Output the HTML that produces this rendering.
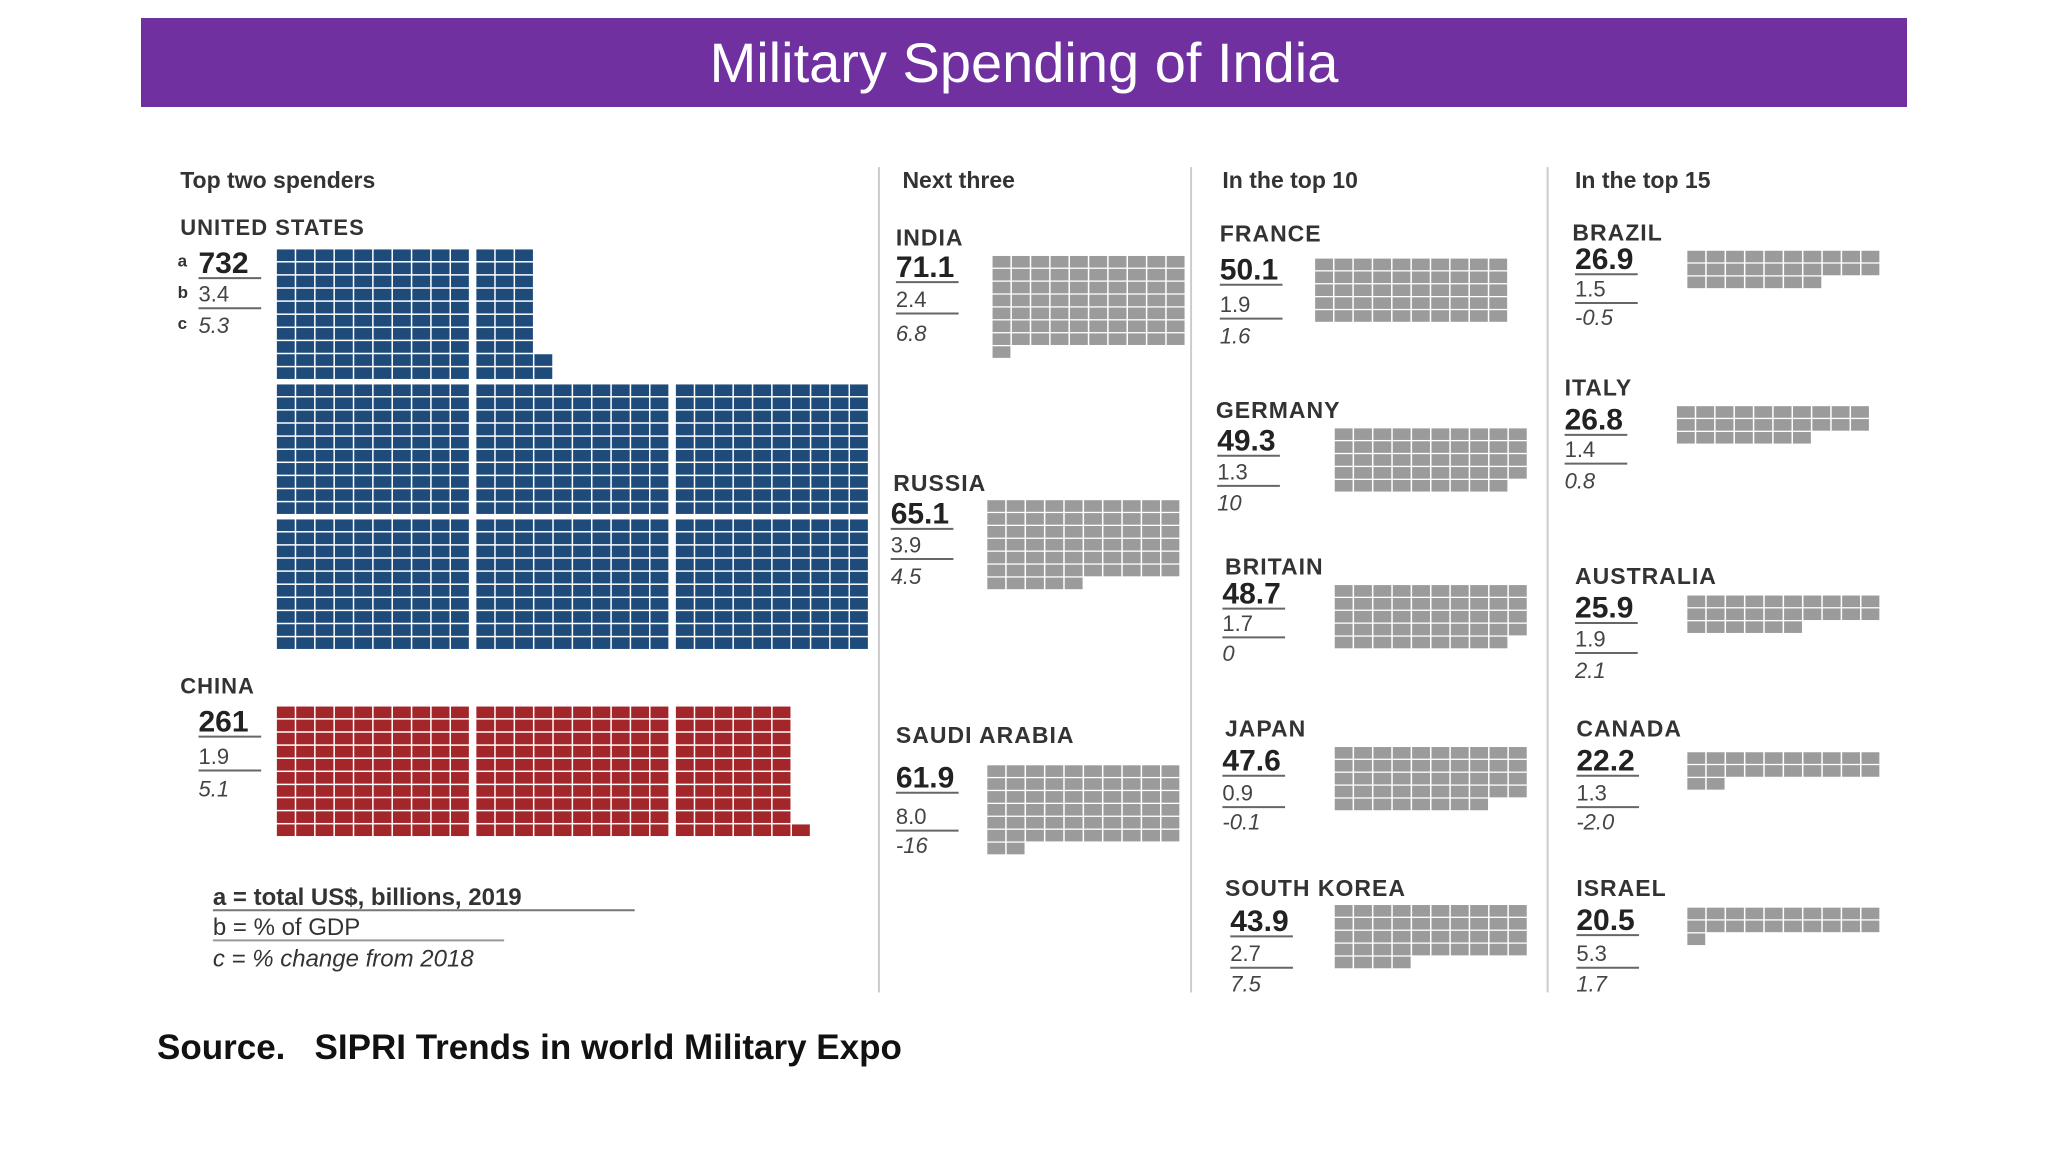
<!DOCTYPE html>
<html><head><meta charset="utf-8">
<style>
html,body{margin:0;padding:0;background:#fff;}
body{width:2048px;height:1152px;overflow:hidden;position:relative;font-family:"Liberation Sans",sans-serif;}
#title{position:absolute;left:141px;top:18px;width:1766px;height:89px;background:#7030a0;color:#fff;font-size:56px;text-align:center;line-height:89px;}
#source{position:absolute;left:157px;top:1028px;font-size:35px;font-weight:bold;color:#111;}
svg{position:absolute;left:0;top:0;}
</style></head>
<body>
<div id="title">Military Spending of India</div>
<svg id="chart" width="2048" height="1152"></svg>
<div id="source">Source.&nbsp;&nbsp;&nbsp;SIPRI Trends in world Military Expo</div>
<script>
// data
const countries = ["UNITED STATES","CHINA","INDIA","RUSSIA","SAUDI ARABIA","FRANCE","GERMANY","BRITAIN","JAPAN","SOUTH KOREA","BRAZIL","ITALY","AUSTRALIA","CANADA","ISRAEL"];
const totals = [732,261,71.1,65.1,61.9,50.1,49.3,48.7,47.6,43.9,26.9,26.8,25.9,22.2,20.5];
const totalLabels = ["732","261","71.1","65.1","61.9","50.1","49.3","48.7","47.6","43.9","26.9","26.8","25.9","22.2","20.5"];
const gdpShare = ["3.4","1.9","2.4","3.9","8.0","1.9","1.3","1.7","0.9","2.7","1.5","1.4","1.9","1.3","5.3"];
const change = ["5.3","5.1","6.8","4.5","-16","1.6","10","0","-0.1","7.5","-0.5","0.8","2.1","-2.0","1.7"];
const headers = ["Top two spenders","Next three","In the top 10","In the top 15"];

const NS="http://www.w3.org/2000/svg";
const svg=document.getElementById('chart');
function mk(tag,attrs,parent){const e=document.createElementNS(NS,tag);for(const k in attrs)e.setAttribute(k,attrs[k]);(parent||svg).appendChild(e);return e;}
const S=1.306;
const headX=[138,691,936,1206];
headers.forEach((h,i)=>{
  const t=mk('text',{x:headX[i]*S,y:144*S,'font-size':23,'font-weight':'bold',fill:'#333'});
  t.textContent=h;
  
  
});
[673,912,1185].forEach(x=>{
  const l=mk('line',{x1:x*S,x2:x*S,y1:128*S,y2:760*S,stroke:'#ccc','stroke-width':2});
  
  
});
const lay=[
 [138,173,152,200,224,248,212,191],
 [138,524,152,551,578,603,212,541],
 [686,181,686,203,228,254,760,196],
 [684,369,682,392,416,440,756,383],
 [686,562,686,594,624,646,756,586],
 [934,178,934,205,232,256,1007,198],
 [931,313,932,336,360,384,1022,328],
 [938,433,936,453,476,499,1022,448],
 [938,557,936,581,606,628,1022,572],
 [938,679,942,704,729,752,1022,693],
 [1204,177,1206,197,220,242,1292,192],
 [1198,296,1198,320,343,367,1284,311],
 [1206,440,1206,464,488,512,1292,456],
 [1207,557,1207,581,606,628,1292,576],
 [1207,679,1207,703,729,752,1292,695]];
const colors=['#1e4b7a','#a3262b'];
const CW=19.35, CH=13.1;
function cell(g,x,y,fill){mk('rect',{x:x,y:y,width:CW-1.5,height:CH-1.5,fill:fill},g);}
countries.forEach((c,i)=>{
  const L=lay[i];
  const g=mk('g',{});
  
  
  const big=i<2;
  const n=mk('text',{x:L[0]*S,y:(L[1]+7)*S,'font-size':big?22:23,'font-weight':'bold',fill:'#333','letter-spacing':1},g);n.textContent=c;
  const v=mk('text',{x:L[2]*S,y:(L[3]+9)*S,'font-size':30,'font-weight':'bold',fill:'#222'},g);v.textContent=totalLabels[i];
  const b=mk('text',{x:L[2]*S,y:(L[4]+7)*S,'font-size':22,fill:'#444'},g);b.textContent=gdpShare[i];
  const cc=mk('text',{x:L[2]*S,y:(L[5]+7)*S,'font-size':22,'font-style':'italic',fill:'#444'},g);cc.textContent=change[i];
  mk('line',{x1:L[2]*S,x2:(L[2]+48)*S,y1:(L[3]+13)*S,y2:(L[3]+13)*S,stroke:'#666','stroke-width':2},g);
  mk('line',{x1:L[2]*S,x2:(L[2]+48)*S,y1:(L[4]+12)*S,y2:(L[4]+12)*S,stroke:'#666','stroke-width':2},g);
  if(i===0){
    [['a',186],['b',210],['c',234]].forEach((p,k)=>{const t=mk('text',{x:136*S,y:(p[1]+18)*S,'font-size':17,'font-weight':'bold',fill:'#333'},g);t.textContent=p[0];});
  }
  const gx=L[6]*S, gy=L[7]*S;
  const n1=Math.round(totals[i]);
  if(big){
    const fill=colors[i];
    const BW=10*CW+6, BH=10*CH+4;
    const slots=i===0?[[1,0],[1,1],[1,2],[2,0],[2,1],[2,2],[0,0],[0,1]]:[[0,0],[0,1],[0,2]];
    let rem=n1, s=0;
    while(rem>0){
      const [r,cl]=slots[s++];
      const bx=gx+cl*BW, by=gy+r*BH;
      const k=Math.min(100,rem);
      for(let j=0;j<k;j++){const col=Math.floor(j/10), row=9-(j%10);cell(g,bx+col*CW,by+row*CH,fill);}
      rem-=k;
    }
  } else {
    for(let j=0;j<n1;j++){const col=j%10,row=Math.floor(j/10);cell(g,gx+col*CW,gy+row*12.9,'#9b9b9b');}
  }
});
const leg=[["a = total US$, billions, 2019",'bold','normal',686],["b = % of GDP",'normal','normal',709],["c = % change from 2018",'normal','italic',733]];
leg.forEach((l,i)=>{
  const t=mk('text',{x:163*S,y:(l[3]+7)*S,'font-size':24,'font-weight':l[1],'font-style':l[2],fill:'#333'});
  t.textContent=l[0];
  
  
});
mk('line',{x1:163*S,x2:486*S,y1:697*S,y2:697*S,stroke:'#777','stroke-width':2});
mk('line',{x1:163*S,x2:386*S,y1:720*S,y2:720*S,stroke:'#999','stroke-width':2});
</script>
</body></html>
